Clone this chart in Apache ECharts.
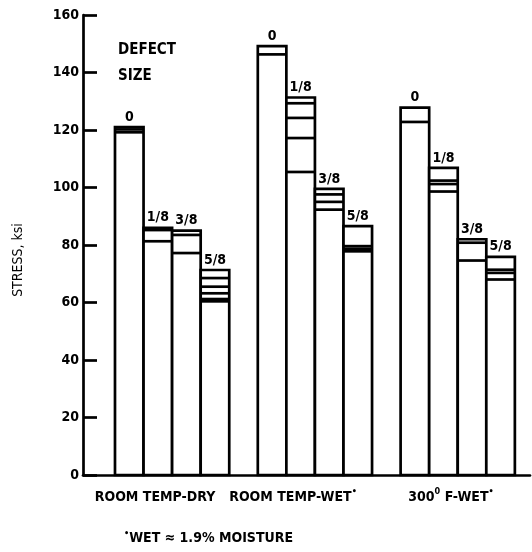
<!DOCTYPE html>
<html>
<head>
<meta charset="utf-8">
<script src="https://cdn.jsdelivr.net/npm/echarts@6/dist/echarts.min.js"></script>
<style>
  html, body { margin: 0; padding: 0; background: #fff; }
  #chart { width: 532px; height: 552px; }
</style>
</head>
<body>
<div id="chart"></div>
<script>
// Test conditions (groups of bars) and defect sizes (bars within a group)
const conditionLabels = ['ROOM TEMP-DRY', 'ROOM TEMP-WET', '300', ' F-WET'];
const defectSizes = ['0', '1/8', '3/8', '5/8'];
const footnote = 'WET ≈ 1.9% MOISTURE';

// Highest failure stress per bar, ksi
const dryPeak = [121, 86, 85, 71.3];
const wetPeak = [149.2, 131.3, 99.5, 86.6];
const hotWetPeak = [127.8, 106.8, 82, 75.9];

// Individual specimen failure stresses drawn as lines inside each bar, ksi
const drySpecimens = [[120.2, 119.2], [85.2, 81.3], [83.5, 77.2], [68.5, 65.5, 63.2, 61.2, 60.4]];
const wetSpecimens = [[146.3], [129.3, 124.2, 117.2, 105.4], [97.6, 95, 92.3], [79.6, 78.7, 77.8]];
const hotWetSpecimens = [[122.8], [102.4, 101.2, 98.6], [80.8, 74.6], [71.4, 70.3, 68]];

// Stress axis
const stressMin = 0;
const stressMax = 160;
const stressStep = 20;

const peaks = [dryPeak, wetPeak, hotWetPeak];
const specimens = [drySpecimens, wetSpecimens, hotWetSpecimens];

const FONT = "'DejaVu Sans Condensed', 'Liberation Sans Narrow', sans-serif";
const LW = 2.7;

// One slot per bar, with an empty slot between condition groups
const barData = [];
peaks.forEach((group, g) => {
  group.forEach((top, k) => {
    barData.push([g * 5 + k, top, g, k]);
  });
});

const chart = echarts.init(document.getElementById('chart'), null, { renderer: 'canvas' });

const supStyle = { fontFamily: FONT, fontWeight: 'bold', fontSize: 9, fill: '#000', padding: [0, 0, 10, 0] };
const textStyle = { fontFamily: FONT, fontWeight: 'bold', fontSize: 14, fill: '#000' };

chart.setOption({
  backgroundColor: '#fff',
  animation: false,
  grid: { left: 83, right: 2, top: 15, bottom: 77, containLabel: false },
  xAxis: {
    type: 'value',
    min: -1.12,
    max: 14.53,
    axisLine: { show: true, onZero: false, lineStyle: { color: '#000', width: LW } },
    axisTick: { show: false },
    axisLabel: { show: false },
    splitLine: { show: false }
  },
  yAxis: {
    type: 'value',
    min: stressMin,
    max: stressMax,
    interval: stressStep,
    name: 'STRESS, ksi',
    nameLocation: 'middle',
    nameGap: 58,
    nameRotate: 90,
    nameTextStyle: { fontFamily: FONT, fontSize: 14, color: '#000', padding: [0, 0, 0, -30] },
    axisLine: { show: true, onZero: false, lineStyle: { color: '#000', width: LW } },
    axisTick: { show: true, inside: true, length: 14, lineStyle: { color: '#000', width: LW } },
    axisLabel: { margin: 4, fontFamily: FONT, fontWeight: 'bold', fontSize: 14, color: '#000' },
    splitLine: { show: false }
  },
  series: [{
    type: 'custom',
    clip: false,
    data: barData,
    renderItem: function (params, api) {
      const slot = api.value(0);
      const top = api.value(1);
      const g = api.value(2);
      const k = api.value(3);
      const p0 = api.coord([slot, 0]);
      const p1 = api.coord([slot + 1, top]);
      const children = [{
        type: 'rect',
        shape: { x: p0[0], y: p1[1], width: p1[0] - p0[0], height: p0[1] - p1[1] },
        style: { fill: '#fff', stroke: '#000', lineWidth: LW }
      }];
      specimens[g][k].forEach(v => {
        const a = api.coord([slot, v]);
        const b = api.coord([slot + 1, v]);
        children.push({
          type: 'line',
          shape: { x1: a[0], y1: a[1], x2: b[0], y2: b[1] },
          style: { stroke: '#000', lineWidth: LW }
        });
      });
      children.push({
        type: 'text',
        x: (p0[0] + p1[0]) / 2,
        y: p1[1] - 3,
        style: {
          text: defectSizes[k],
          fontFamily: FONT, fontWeight: 'bold', fontSize: 14, fill: '#000',
          align: 'center', verticalAlign: 'bottom'
        }
      });
      return { type: 'group', children: children };
    }
  }],
  graphic: [
    {
      type: 'text', left: 118, top: 37,
      style: { text: 'DEFECT\nSIZE', fontFamily: FONT, fontWeight: 'bold', fontSize: 15, lineHeight: 26, fill: '#000' }
    },
    {
      type: 'text', x: 155, y: 497,
      style: Object.assign({ text: conditionLabels[0], align: 'center', verticalAlign: 'middle' }, textStyle)
    },
    {
      type: 'text', x: 293, y: 497,
      style: {
        text: '{t|' + conditionLabels[1] + '}{s|•}',
        align: 'center', verticalAlign: 'middle',
        rich: { t: textStyle, s: supStyle }
      }
    },
    {
      type: 'text', x: 451, y: 497,
      style: {
        text: '{t|' + conditionLabels[2] + '}{s|0}{t|' + conditionLabels[3] + '}{s|•}',
        align: 'center', verticalAlign: 'middle',
        rich: { t: textStyle, s: supStyle }
      }
    },
    {
      type: 'text', left: 124, top: 529,
      style: {
        text: '{s|•}{t|' + footnote + '}',
        rich: { t: textStyle, s: supStyle }
      }
    }
  ]
});
</script>
</body>
</html>
